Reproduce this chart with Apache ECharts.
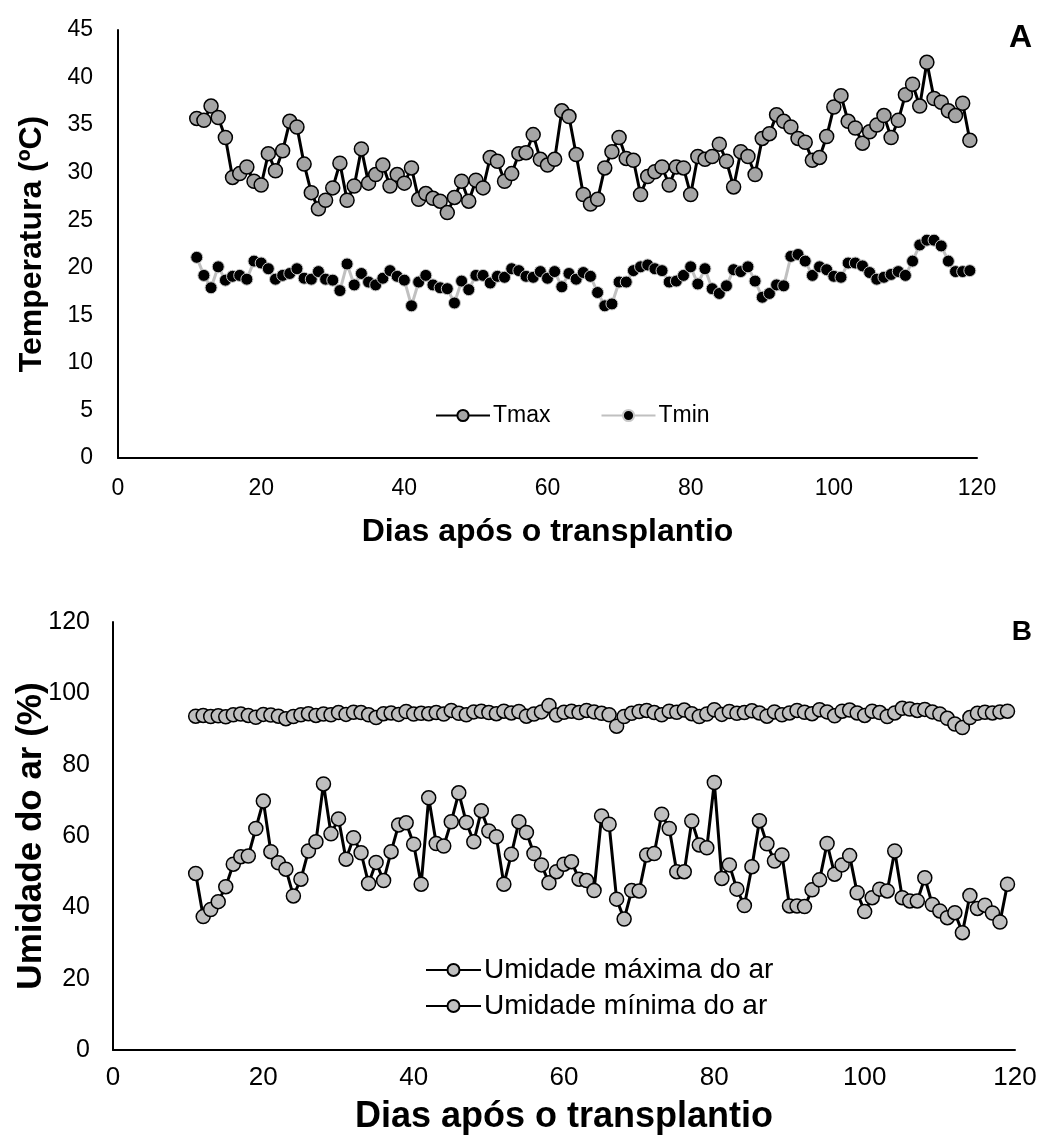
<!DOCTYPE html>
<html>
<head>
<meta charset="utf-8">
<script src="https://cdn.jsdelivr.net/npm/echarts@6/dist/echarts.min.js"></script>
<style>
  html, body { margin: 0; padding: 0; background: #fff; }
  #chart { width: 1039px; height: 1138px; }
</style>
</head>
<body>
<div id="chart"></div>
<script>
// Days after transplanting (x values shared by all series)
const days = [11,12,13,14,15,16,17,18,19,20,21,22,23,24,25,26,27,28,29,30,
  31,32,33,34,35,36,37,38,39,40,41,42,43,44,45,46,47,48,49,50,
  51,52,53,54,55,56,57,58,59,60,61,62,63,64,65,66,67,68,69,70,
  71,72,73,74,75,76,77,78,79,80,81,82,83,84,85,86,87,88,89,90,
  91,92,93,94,95,96,97,98,99,100,101,102,103,104,105,106,107,108,109,110,
  111,112,113,114,115,116,117,118,119];

// Maximum air temperature (°C)
const tmax = [35.7,35.5,37.0,35.8,33.7,29.5,29.9,30.6,29.1,28.7,
  32.0,30.2,32.3,35.4,34.8,30.9,27.9,26.2,27.1,28.4,
  31.0,27.1,28.6,32.5,28.9,29.8,30.8,28.6,29.8,28.9,
  30.5,27.2,27.8,27.3,27.0,25.8,27.4,29.1,27.0,29.2,
  28.4,31.6,31.2,29.1,29.9,32.0,32.1,34.0,31.4,30.8,
  31.4,36.5,35.9,31.9,27.7,26.7,27.2,30.5,32.2,33.7,
  31.5,31.3,27.7,29.6,30.1,30.6,28.7,30.6,30.5,27.7,
  31.7,31.4,31.7,33.0,31.2,28.5,32.2,31.7,29.8,33.6,
  34.1,36.1,35.4,34.8,33.6,33.2,31.3,31.6,33.8,36.9,
  38.1,35.4,34.7,33.1,34.3,35.0,36.0,33.7,35.5,38.2,
  39.3,37.0,41.6,37.8,37.4,36.5,36.0,37.3,33.4];

// Minimum air temperature (°C)
const tmin = [21.1,19.2,17.9,20.1,18.7,19.1,19.2,18.8,20.7,20.5,
  19.9,18.8,19.2,19.4,19.9,18.9,18.8,19.6,18.8,18.7,
  17.6,20.4,18.2,19.4,18.5,18.2,18.9,19.7,19.1,18.7,
  16.0,18.5,19.2,18.2,17.9,17.8,16.3,18.6,17.7,19.2,
  19.2,18.4,19.1,19.0,19.9,19.7,19.1,19.0,19.6,18.9,
  19.6,18.0,19.4,18.8,19.5,19.1,17.4,16.0,16.2,18.5,
  18.5,19.7,20.1,20.3,19.9,19.7,18.5,18.6,19.2,20.1,
  18.3,19.9,17.8,17.3,18.1,19.8,19.6,20.1,18.6,16.9,
  17.3,18.2,18.1,21.2,21.4,20.7,19.2,20.1,19.8,19.1,
  19.0,20.5,20.5,20.2,19.5,18.8,19.0,19.3,19.6,19.2,
  20.7,22.4,22.9,22.9,22.3,20.7,19.6,19.6,19.7];

// Maximum relative air humidity (%)
const urMax = [93.6,93.8,93.5,93.7,93.4,94.0,94.2,93.8,93.3,94.1,
  93.9,93.6,92.9,93.5,94.0,94.3,93.8,94.2,94.0,94.6,
  94.1,94.7,94.6,94.0,93.2,94.3,94.5,94.1,94.9,94.2,
  94.4,94.3,94.6,94.2,95.2,94.4,94.0,94.8,95.0,94.6,
  94.3,95.0,94.5,94.9,93.6,94.2,94.8,96.6,93.9,94.7,
  95.0,94.6,95.2,94.8,94.4,94.0,90.8,93.5,94.4,94.9,
  95.2,94.6,94.0,95.0,94.7,95.3,94.3,93.5,94.2,95.4,
  94.1,94.9,94.4,94.6,95.1,94.5,93.6,94.8,94.0,94.5,
  95.2,94.7,94.3,95.4,94.8,93.7,95.0,95.3,94.5,93.8,
  95.0,94.6,93.5,94.5,95.8,95.6,95.2,95.5,94.8,94.2,
  93.0,91.4,90.4,93.2,94.4,94.7,94.5,94.8,95.0];

// Minimum relative air humidity (%)
const urMin = [49.5,37.4,39.4,41.6,45.8,52.1,54.2,54.4,62.1,69.8,
  55.6,52.5,50.7,43.2,47.9,55.8,58.4,74.6,60.6,64.8,
  53.5,59.5,55.3,46.7,52.6,47.5,55.6,63.1,63.7,57.7,
  46.5,70.7,57.9,57.2,64.0,72.1,63.8,58.4,67.1,61.4,
  59.8,46.5,54.9,64.0,61.0,55.1,51.9,46.9,50.0,52.1,
  52.8,47.9,47.5,44.7,65.6,63.3,42.3,36.7,44.7,44.6,
  54.7,55.1,66.1,62.1,50.0,50.0,64.2,57.5,56.7,75.0,
  48.1,51.9,45.1,40.5,51.4,64.3,57.8,53.0,54.7,40.4,
  40.4,40.2,44.9,47.7,57.9,49.3,51.9,54.5,44.1,38.8,
  42.7,45.1,44.6,55.8,42.7,41.8,41.8,48.3,40.8,39.0,
  37.1,38.5,32.9,43.3,39.7,40.6,38.4,35.9,46.5];

// Axis tick settings
const xTicks = { min: 0, max: 120, interval: 20 };
const tempTicks = { min: 0, max: 45, interval: 5 };
const humTicks = { min: 0, max: 120, interval: 20 };

const pair = (ys) => days.map((d, i) => [d, ys[i]]);

const FONT = 'Liberation Sans, Arial, sans-serif';
const axisLine = { show: true, lineStyle: { color: '#000', width: 2 } };

function xAxisFor(gridIndex, labelSize, labelGap, titleSize, nameGap) {
  return {
    type: 'value', gridIndex,
    min: xTicks.min, max: xTicks.max, interval: xTicks.interval,
    axisLine, axisTick: { show: false }, splitLine: { show: false },
    axisLabel: { color: '#000', fontSize: labelSize, fontFamily: FONT, margin: labelGap },
    name: 'Dias após o transplantio', nameLocation: 'middle', nameGap,
    nameMoveOverlap: false,
    nameTextStyle: { color: '#000', fontSize: titleSize, fontWeight: 'bold', fontFamily: FONT }
  };
}

function yAxisFor(gridIndex, ticks, name, labelSize, labelGap, titleSize, nameGap) {
  return {
    type: 'value', gridIndex,
    min: ticks.min, max: ticks.max, interval: ticks.interval,
    axisLine, axisTick: { show: false }, splitLine: { show: false },
    axisLabel: { color: '#000', fontSize: labelSize, fontFamily: FONT, margin: labelGap },
    name, nameLocation: 'middle', nameRotate: 90, nameGap,
    nameMoveOverlap: false,
    nameTextStyle: { color: '#000', fontSize: titleSize, fontWeight: 'bold', fontFamily: FONT }
  };
}

const chart = echarts.init(document.getElementById('chart'), null, { renderer: 'canvas' });

chart.setOption({
  backgroundColor: '#fff',
  animation: false,
  textStyle: { fontFamily: FONT },
  grid: [
    { left: 118, top: 30, width: 859, height: 428, containLabel: false, outerBoundsMode: 'none' },
    { left: 113, top: 622, width: 902, height: 428, containLabel: false, outerBoundsMode: 'none' }
  ],
  xAxis: [xAxisFor(0, 23, 19, 32, 58), xAxisFor(1, 26, 15, 36, 49)],
  yAxis: [
    yAxisFor(0, tempTicks, 'Temperatura (ºC)', 23, 25, 32, 70),
    yAxisFor(1, humTicks, 'Umidade do ar (%)', 25, 23, 35, 64)
  ],
  legend: [
    {
      data: ['Tmax', 'Tmin'],
      left: 430, top: 399,
      itemWidth: 54, itemHeight: 14, itemGap: 50,
      textStyle: { color: '#000', fontSize: 23, fontFamily: FONT, padding: [0, 0, 0, -2] }
    },
    {
      data: ['Umidade máxima do ar', 'Umidade mínima do ar'],
      orient: 'vertical',
      left: 420, top: 951,
      itemWidth: 55, itemHeight: 15, itemGap: 8,
      textStyle: { color: '#000', fontSize: 28, fontFamily: FONT, padding: [0, 0, 0, -2] }
    }
  ],
  graphic: [
    { type: 'text', right: 7, top: 22,
      style: { text: 'A', fontSize: 32, fontWeight: 'bold', fill: '#000', fontFamily: FONT } },
    { type: 'text', right: 7, top: 618,
      style: { text: 'B', fontSize: 28, fontWeight: 'bold', fill: '#000', fontFamily: FONT } }
  ],
  series: [
    {
      name: 'Tmax', type: 'line', xAxisIndex: 0, yAxisIndex: 0,
      data: pair(tmax), symbol: 'circle', symbolSize: 14, z: 3,
      lineStyle: { color: '#000', width: 3 },
      itemStyle: { color: '#a5a5a5', borderColor: '#000', borderWidth: 1.5 }
    },
    {
      name: 'Tmin', type: 'line', xAxisIndex: 0, yAxisIndex: 0,
      data: pair(tmin), symbol: 'circle', symbolSize: 12, z: 2,
      lineStyle: { color: '#c0c0c0', width: 3 },
      itemStyle: { color: '#000', borderColor: '#c8c8c8', borderWidth: 1 }
    },
    {
      name: 'Umidade máxima do ar', type: 'line', xAxisIndex: 1, yAxisIndex: 1,
      data: pair(urMax), symbol: 'circle', symbolSize: 14,
      lineStyle: { color: '#000', width: 3 },
      itemStyle: { color: '#bfbfbf', borderColor: '#000', borderWidth: 1.5 }
    },
    {
      name: 'Umidade mínima do ar', type: 'line', xAxisIndex: 1, yAxisIndex: 1,
      data: pair(urMin), symbol: 'circle', symbolSize: 14,
      lineStyle: { color: '#000', width: 3 },
      itemStyle: { color: '#bfbfbf', borderColor: '#000', borderWidth: 1.5 }
    }
  ]
});
</script>
</body>
</html>
